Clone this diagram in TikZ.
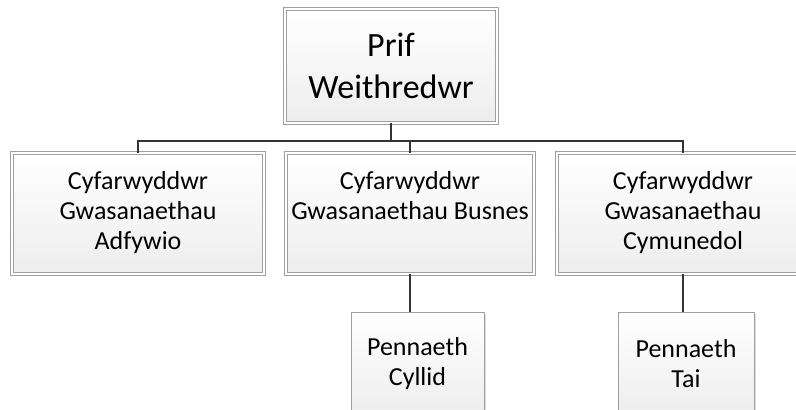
\documentclass[tikz,border=0pt]{standalone}
\usepackage{fontspec}
\setmainfont{Carlito}
\usetikzlibrary{shadows}
\newcommand{\dpstrut}{\rule[-6pt]{0pt}{1pt}}
\begin{document}
\begin{tikzpicture}[x=1pt,y=-1pt,
  boxbase/.style={rectangle, align=center, inner sep=0pt,
    top color=white, bottom color=gray!14, draw=gray!75,
    drop shadow={shadow xshift=2pt, shadow yshift=-2pt, fill=gray!25, opacity=1}},
  dblbox/.style={boxbase, double=white, double distance=1.6pt, line width=0.8pt},
  sglbox/.style={boxbase, line width=1pt},
  midfont/.style={font=\fontsize{26}{30}\selectfont},
  topfont/.style={font=\fontsize{34}{42}\selectfont},
  link/.style={draw=black!80, line width=1.5pt}
]
\useasboundingbox (0,0) rectangle (796,410);
\clip (0,0) rectangle (796,410);

\node[dblbox, topfont, minimum width=212pt, minimum height=114pt] (top) at (391,66) {Prif\\Weithredwr};

\node[dblbox, midfont, minimum width=252pt, minimum height=121pt] (left) at (138,213.5) {Cyfarwyddwr\\Gwasanaethau\\Adfywio\dpstrut};
\node[dblbox, midfont, minimum width=248pt, minimum height=121pt] (mid) at (410,213.5) {Cyfarwyddwr\\Gwasanaethau Busnes\\\dpstrut};
\node[dblbox, midfont, minimum width=252pt, minimum height=121pt] (right) at (683,213.5) {Cyfarwyddwr\\Gwasanaethau\\Cymunedol\dpstrut};

\node[sglbox, midfont, minimum width=133pt, minimum height=104pt] (pc) at (417.5,364) {Pennaeth\\Cyllid};
\node[sglbox, midfont, minimum width=136pt, minimum height=104pt] (pt) at (686,364) {Pennaeth\\Tai};

\coordinate (bus) at (0,141);
\draw[link] (top.south) -- (top.south |- bus);
\draw[link] (left.north) -- (left.north |- bus) -- (right.north |- bus) -- (right.north);
\draw[link] (mid.north) -- (mid.north |- bus);
\draw[link] (mid.south) -- (mid.south |- pc.north);
\draw[link] (right.south) -- (right.south |- pt.north);
\end{tikzpicture}
\end{document}
